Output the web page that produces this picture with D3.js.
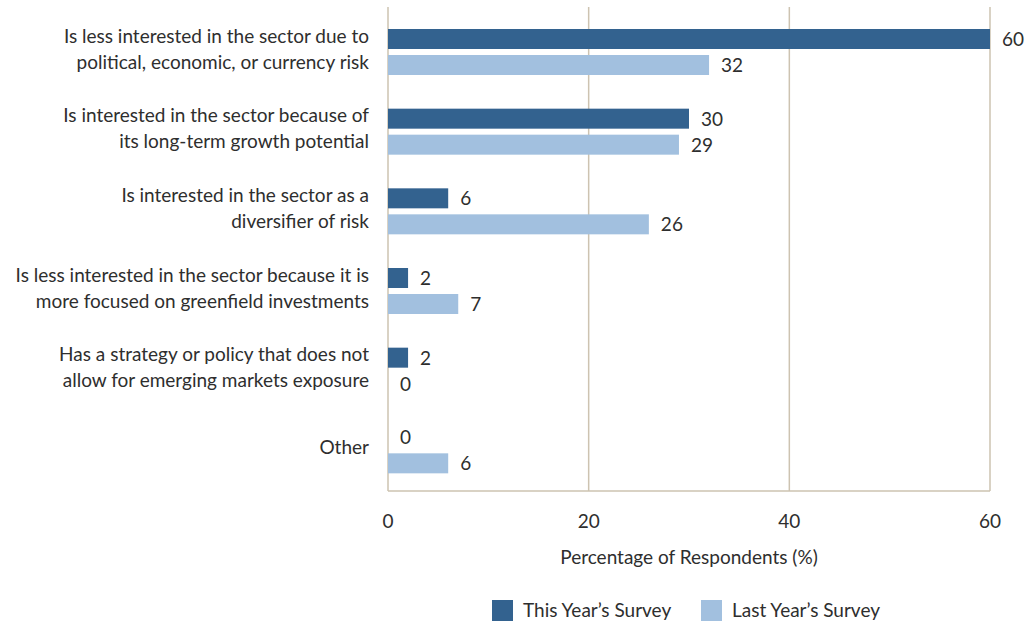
<!DOCTYPE html>
<html>
<head>
<meta charset="utf-8">
<script src="https://cdn.jsdelivr.net/npm/d3@7"></script>
<style>
  body { margin: 0; background: #fff; }
  text { font-family: Lato, "Noto Sans", sans-serif; fill: #2e2e2e; }
</style>
</head>
<body>
<div id="chart"></div>
<script>
// categories (two lines each) and series
const categories = [
    ["Is less interested in the sector due to", "political, economic, or currency risk"],
    ["Is interested in the sector because of", "its long-term growth potential"],
    ["Is interested in the sector as a", "diversifier of risk"],
    ["Is less interested in the sector because it is", "more focused on greenfield investments"],
    ["Has a strategy or policy that does not", "allow for emerging markets exposure"],
    ["Other"]
];
const thisYear = [60, 30, 6, 2, 2, 0];
const lastYear = [32, 29, 26, 7, 0, 6];
const seriesNames = ["This Year\u2019s Survey", "Last Year\u2019s Survey"];
const xTicks = [0, 20, 40, 60];

const colors = ["#33628f", "#a2c0df"];
const gridColor = "#cdc3b1";
const fs = 19;

const W = 1027, H = 623;
const plotL = 388, plotR = 990, plotT = 7, plotB = 491;

const svg = d3.select("#chart").append("svg").attr("width", W).attr("height", H);

const x = d3.scaleLinear().domain([0, 60]).range([plotL, plotR]);
const keys = categories.map((c, i) => i);
const y = d3.scaleBand().domain(keys).range([12, 490]);

// grid lines
svg.append("g").selectAll("line").data(xTicks).join("line")
    .attr("x1", d => x(d)).attr("x2", d => x(d))
    .attr("y1", plotT).attr("y2", plotB)
    .attr("stroke", gridColor).attr("stroke-width", 1.5);

// bottom axis line
svg.append("line")
    .attr("x1", plotL).attr("x2", plotR)
    .attr("y1", plotB).attr("y2", plotB)
    .attr("stroke", gridColor).attr("stroke-width", 1.5);

// bars
const barH = 20;
const offsets = [17, 43];
[thisYear, lastYear].forEach((vals, s) => {
    const g = svg.append("g");
    g.selectAll("rect").data(vals).join("rect")
        .attr("x", x(0))
        .attr("y", (d, i) => y(i) + offsets[s])
        .attr("width", d => x(d) - x(0))
        .attr("height", barH)
        .attr("fill", colors[s]);
    g.selectAll("text").data(vals).join("text")
        .attr("x", d => x(d) + 12)
        .attr("y", (d, i) => y(i) + offsets[s] + barH / 2)
        .attr("dy", "0.36em")
        .attr("font-size", fs)
        .text(d => d);
});

// category labels
const catG = svg.append("g");
categories.forEach((lines, i) => {
    const cy = y(i) + y.bandwidth() / 2 - 3;
    const t = catG.append("text")
        .attr("text-anchor", "end")
        .attr("font-size", fs);
    lines.forEach((ln, j) => {
        t.append("tspan")
            .attr("x", 369)
            .attr("y", cy + (j - (lines.length - 1) / 2) * 26)
            .attr("dy", "0.36em")
            .text(ln);
    });
});

// x tick labels
svg.append("g").selectAll("text").data(xTicks).join("text")
    .attr("x", d => x(d))
    .attr("y", 521)
    .attr("dy", "0.36em")
    .attr("text-anchor", "middle")
    .attr("font-size", fs)
    .text(d => d);

// axis title
svg.append("text")
    .attr("x", x(30))
    .attr("y", 557)
    .attr("dy", "0.36em")
    .attr("text-anchor", "middle")
    .attr("font-size", fs)
    .text("Percentage of Respondents (%)");

// legend
const legX = [492, 701];
const leg = svg.append("g");
seriesNames.forEach((name, i) => {
    leg.append("rect")
        .attr("x", legX[i]).attr("y", 600)
        .attr("width", 21).attr("height", 21)
        .attr("fill", colors[i]);
    leg.append("text")
        .attr("x", legX[i] + 31).attr("y", 610.5)
        .attr("dy", "0.36em")
        .attr("font-size", fs)
        .text(name);
});
</script>
</body>
</html>
